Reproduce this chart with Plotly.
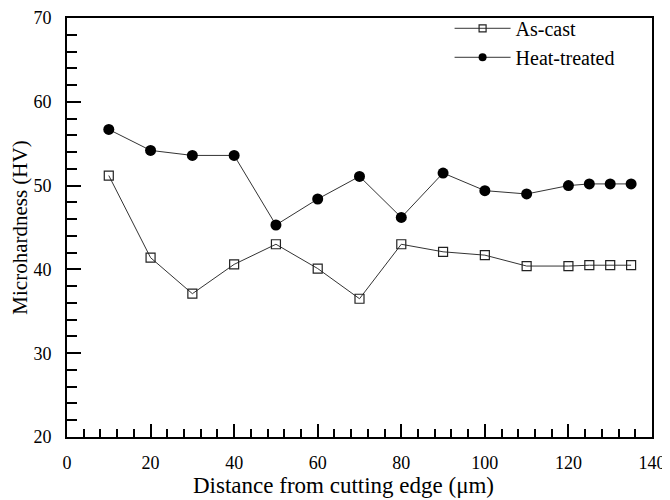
import plotly.graph_objects as go

distance = [10, 20, 30, 40, 50, 60, 70, 80, 90, 100, 110, 120, 125, 130, 135]
as_cast = [51.2, 41.4, 37.1, 40.6, 43.0, 40.1, 36.5, 43.0, 42.1, 41.7, 40.4, 40.4, 40.5, 40.5, 40.5]
heat_treated = [56.7, 54.2, 53.6, 53.6, 45.3, 48.4, 51.1, 46.2, 51.5, 49.4, 49.0, 50.0, 50.2, 50.2, 50.2]

x_ticks = [0, 20, 40, 60, 80, 100, 120, 140]
y_ticks = [20, 30, 40, 50, 60, 70]
x_title = "Distance from cutting edge (μm)"
y_title = "Microhardness (HV)"

FONT = "Times New Roman"
LINE = "#333333"

fig = go.Figure()
fig.add_trace(go.Scatter(
    x=distance, y=as_cast, mode="lines+markers", showlegend=False,
    line=dict(color=LINE, width=1),
    marker=dict(symbol="square-open", size=9, color="#222222", line=dict(width=1.2)),
))
fig.add_trace(go.Scatter(
    x=distance, y=heat_treated, mode="lines+markers", showlegend=False,
    line=dict(color=LINE, width=1),
    marker=dict(symbol="circle", size=11, color="black"),
))
fig.add_trace(go.Scatter(
    x=[None], y=[None], mode="lines+markers", name="As-cast",
    line=dict(color=LINE, width=1),
    marker=dict(symbol="square-open", size=7, color="#222222", line=dict(width=1.2)),
))
fig.add_trace(go.Scatter(
    x=[None], y=[None], mode="lines+markers", name="Heat-treated",
    line=dict(color=LINE, width=1),
    marker=dict(symbol="circle", size=8, color="black"),
))

fig.update_layout(
    width=662, height=492,
    margin=dict(l=59, r=18, t=10, b=63, autoexpand=False),
    paper_bgcolor="white", plot_bgcolor="white",
    font=dict(family=FONT, size=18, color="black"),
    legend=dict(
        x=0.654, y=1.022, xanchor="left", yanchor="top",
        bgcolor="rgba(0,0,0,0)", font=dict(size=20, family=FONT),
        itemwidth=56, tracegroupgap=0,
    ),
    annotations=[dict(
        text=x_title, xref="paper", yref="paper", x=0.4735, y=0,
        xanchor="center", yanchor="middle", yshift=-48, showarrow=False,
        font=dict(size=23, family=FONT, color="black"),
    )],
)
fig.update_xaxes(
    range=[0, 140], tickvals=x_ticks, ticktext=[str(v) for v in x_ticks],
    showgrid=False, zeroline=False, automargin=False,
    showline=True, linecolor="black", linewidth=2, mirror=True,
    ticks="inside", ticklen=13, tickwidth=1.5, tickcolor="black",
    ticklabelstandoff=8, ticklabeloverflow="allow",
    minor=dict(dtick=4, tick0=0, ticks="inside", ticklen=8, tickwidth=1.5, tickcolor="black", showgrid=False),
    tickfont=dict(size=18, family=FONT),
)
fig.update_yaxes(
    range=[20, 70], tickvals=y_ticks, ticktext=[str(v) for v in y_ticks],
    showgrid=False, zeroline=False, automargin=False,
    showline=True, linecolor="black", linewidth=2, mirror=True,
    ticks="inside", ticklen=14, tickwidth=1.5, tickcolor="black",
    ticklabelstandoff=10, ticklabeloverflow="allow",
    minor=dict(dtick=2, tick0=20, ticks="inside", ticklen=10, tickwidth=1.5, tickcolor="black", showgrid=False),
    title=dict(text=y_title, font=dict(size=21, family=FONT), standoff=6),
    tickfont=dict(size=18, family=FONT),
)

fig.write_html("out.html")
